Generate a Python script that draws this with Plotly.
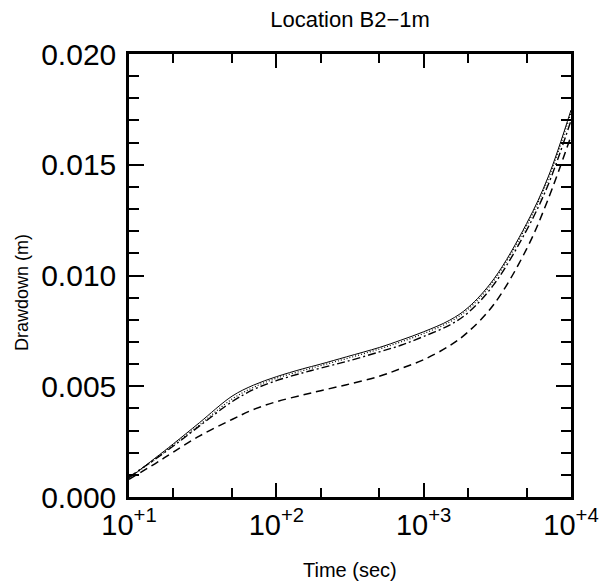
import plotly.graph_objects as go

# time (sec) and drawdown (m)
time_sec = [10, 15, 20, 30, 50, 70, 100, 150, 200, 300, 500, 700,
            1000, 1500, 2000, 3000, 5000, 7000, 10000]

solid = [0.00085, 0.00175, 0.0024, 0.00335, 0.00455, 0.00505, 0.00543, 0.00578,
         0.0060, 0.00633, 0.00675, 0.00708, 0.00746, 0.00798, 0.00855, 0.00985,
         0.01235, 0.01445, 0.01747]
dotted = [0.00085, 0.0017, 0.00235, 0.00325, 0.00442, 0.00495, 0.00536, 0.0057,
          0.00593, 0.00625, 0.00668, 0.0070, 0.00738, 0.0079, 0.00847, 0.00977,
          0.01225, 0.01435, 0.01735]
dashdot = [0.0009, 0.0017, 0.0023, 0.0032, 0.0043, 0.00485, 0.00525, 0.0056,
           0.00582, 0.00612, 0.00655, 0.00685, 0.00725, 0.00776, 0.00832, 0.0096,
           0.01205, 0.0141, 0.0170]
dashed = [0.0008, 0.0015, 0.00203, 0.00275, 0.0035, 0.00395, 0.0043, 0.0046,
          0.0048, 0.00507, 0.00545, 0.0058, 0.0062, 0.00683, 0.00745, 0.0087,
          0.0112, 0.01345, 0.0163]

major_x = [10, 100, 1000, 10000]
major_x_text = ["10<sup>+1</sup>", "10<sup>+2</sup>", "10<sup>+3</sup>", "10<sup>+4</sup>"]
mid_x = [20, 50, 200, 500, 2000, 5000]
small_x = [15, 150, 1500]

FONT = "Liberation Sans, Arial, sans-serif"

fig = go.Figure()
series = [(solid, "solid", 1.0), (dotted, "1px,2px", 1.2),
          (dashdot, "8px,3px,2px,3px", 1.4), (dashed, "8px,5px", 1.5)]
for ys, dash, w in series:
    fig.add_trace(go.Scatter(x=time_sec, y=ys, mode="lines",
                             line=dict(color="black", width=w, dash=dash,
                                       shape="spline", smoothing=1.0),
                             showlegend=False, hoverinfo="skip"))

fig.update_layout(
    width=604, height=583,
    margin=dict(l=129, r=33, t=54, b=86),
    plot_bgcolor="white", paper_bgcolor="white",
    font=dict(family=FONT, color="black"),
    title=dict(text="Location B2\u22121m", x=350 / 604, xanchor="center",
               y=1 - 19 / 583, yanchor="middle", font=dict(size=22)),
    xaxis=dict(type="log", range=[1, 4], showgrid=False, zeroline=False,
               automargin=False,
               showline=True, linewidth=2.5, linecolor="black", mirror="ticks",
               ticks="inside", ticklen=14, tickwidth=2, tickcolor="black",
               tickvals=major_x, ticktext=major_x_text,
               tickfont=dict(size=29), ticklabelstandoff=0,
               minor=dict(tickvals=mid_x, ticks="inside", ticklen=9,
                          tickwidth=2, tickcolor="black", showgrid=False)),
    xaxis2=dict(type="log", range=[1, 4], overlaying="x", side="bottom",
                automargin=False,
                showgrid=False, zeroline=False, showline=False, mirror="ticks",
                ticks="inside", ticklen=6, tickwidth=2, tickcolor="black",
                tickvals=small_x, showticklabels=False),
    yaxis=dict(range=[0, 0.020], showgrid=False, zeroline=False,
               automargin=False,
               showline=True, linewidth=2.5, linecolor="black", mirror="ticks",
               ticks="inside", ticklen=15, tickwidth=2, tickcolor="black",
               dtick=0.005, tickformat=".3f", tickfont=dict(size=30),
               ticklabelstandoff=4,
               minor=dict(dtick=0.001, ticks="inside", ticklen=10,
                          tickwidth=2, tickcolor="black", showgrid=False)),
    annotations=[
        dict(text="Time (sec)", xref="paper", yref="paper",
             x=0.5, y=-(570 - 497) / 443, xanchor="center", yanchor="middle",
             showarrow=False, font=dict(size=20)),
        dict(text="Drawdown (m)", xref="paper", yref="paper",
             x=-(129 - 22) / 442, y=(497 - 293) / 443, xanchor="center",
             yanchor="middle", textangle=-90, showarrow=False,
             font=dict(size=18)),
    ],
)

fig.write_html("out.html", config={"displayModeBar": False},
               post_script="document.body.style.margin='0';")
